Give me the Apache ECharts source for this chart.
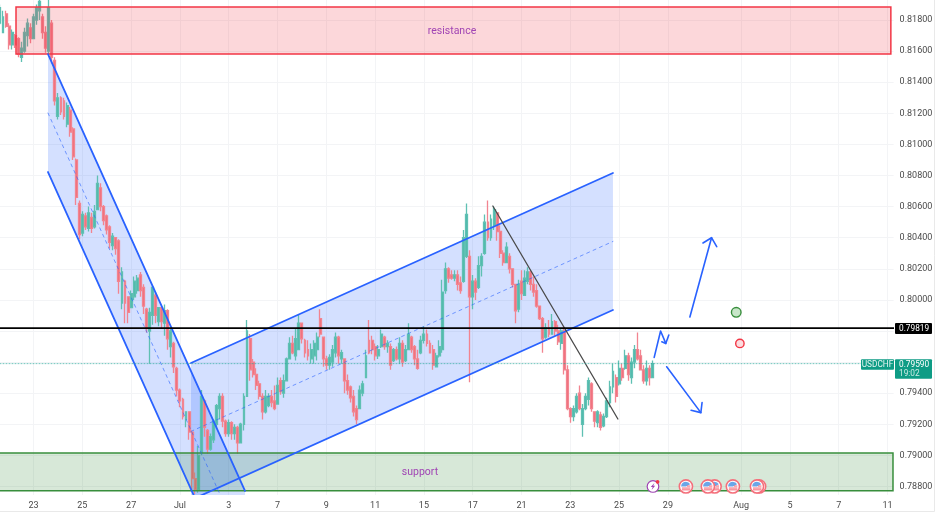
<!DOCTYPE html>
<html><head><meta charset="utf-8">
<style>html,body{margin:0;padding:0;background:#fff}#c{width:941px;height:513px}</style>
<script src="https://cdn.jsdelivr.net/npm/echarts@6/dist/echarts.min.js"></script>
</head><body><div id="c"></div>
<script>
// candles: [open, close, low, high] in units of 0.0001
const weekJun19=[[8178,8188,8177,8190],[8172,8182,8172,8186],[8184,8176,8175,8186],[8176,8164,8161,8178],[8164,8172,8161,8174],[8170,8164,8162,8171],[8168,8158,8156,8169],[8156,8162,8153,8166],[8160,8172,8159,8175],[8170,8178,8163,8181],[8175,8168,8165,8178]];
const weekJun23=[[8168,8182,8168,8184],[8180,8188,8177,8190],[8186,8192,8180,8193],[8182,8172,8168,8184],[8172,8162,8159,8176],[8160,8188,8158,8193],[8178,8156,8152,8180],[8154,8128,8125,8156],[8118,8130,8116,8133],[8130,8121,8119,8131],[8128,8118,8116,8130],[8113,8125,8111,8127],[8122,8108,8105,8124],[8110,8092,8090,8111],[8090,8066,8061,8091],[8062,8042,8039,8064],[8043,8055,8041,8057],[8054,8047,8045,8056],[8046,8056,8044,8060],[8053,8046,8043,8056],[8047,8057,8046,8061],[8058,8075,8058,8080],[8072,8060,8057,8075],[8060,8051,8048,8061],[8054,8045,8042,8055],[8047,8037,8033,8048],[8035,8041,8032,8043],[8040,8033,8029,8040],[8038,8012,8004,8039],[7998,8018,7994,8021],[8012,7998,7985,8013],[8002,7992,7985,8002],[7995,8004,7995,8006],[8002,8012,8000,8015],[8006,8014,8004,8016],[8016,8006,8002,8018],[8008,7996,7991,8010],[7994,7982,7979,7995],[7980,7992,7959,7995],[7990,8008,7984,8009]];
const weekJun30=[[8003,7990,7985,8005],[7986,7995,7983,7995],[7995,7986,7982,7995],[7985,7993,7977,7997],[7993,7975,7968,7994],[7970,7980,7963,7982],[7972,7957,7953,7973],[7956,7942,7938,7957],[7942,7935,7931,7943],[7936,7925,7923,7937],[7923,7928,7918,7928],[7928,7915,7910,7928],[7915,7885,7878,7916],[7885,7878,7875,7889],[7878,7900,7876,7906],[7902,7938,7900,7942],[7935,7918,7912,7936],[7916,7904,7901,7917],[7904,7912,7903,7914],[7910,7922,7908,7923],[7920,7932,7917,7933],[7930,7938,7923,7940],[7938,7922,7918,7940],[7922,7914,7912,7923],[7914,7921,7912,7923],[7921,7914,7910,7922],[7914,7918,7910,7920],[7918,7908,7901,7919],[7908,7920,7908,7921],[7920,7938,7916,7940],[7938,7980,7938,7987],[7975,7955,7948,7978],[7960,7952,7950,7962],[7952,7945,7942,7956],[7946,7938,7936,7948],[7938,7928,7923,7940],[7928,7938,7927,7942],[7932,7938,7931,7940],[7938,7934,7931,7942],[7935,7930,7929,7945]];
const weekJul7=[[7933,7945,7933,7950],[7948,7941,7939,7950],[7940,7948,7937,7952],[7948,7962,7948,7963],[7962,7972,7962,7976],[7972,7966,7965,7977],[7964,7975,7961,7982],[7968,7985,7968,7991],[7985,7975,7972,7985],[7974,7966,7963,7975],[7968,7964,7961,7974],[7962,7968,7959,7972],[7964,7972,7959,7974],[7968,7976,7961,7979],[7988,7978,7976,7994],[7976,7962,7957,7976],[7962,7958,7955,7964],[7958,7963,7955,7965],[7960,7968,7957,7971],[7966,7976,7963,7979],[7976,7964,7959,7977],[7962,7966,7959,7968],[7962,7948,7940,7962],[7948,7942,7939,7952],[7944,7937,7934,7945],[7938,7928,7925,7942],[7930,7923,7920,7932],[7930,7942,7930,7945],[7940,7946,7938,7948],[7950,7964,7950,7968],[7974,7966,7965,7987],[7974,7968,7965,7977],[7970,7964,7961,7972],[7964,7968,7962,7971],[7970,7978,7969,7981],[7976,7970,7968,7977],[7970,7972,7966,7974],[7970,7958,7955,7972],[7961,7968,7960,7969],[7968,7962,7961,7970]];
const weekJul14=[[7962,7972,7959,7976],[7972,7960,7957,7974],[7961,7968,7960,7971],[7968,7978,7968,7985],[7976,7968,7966,7977],[7970,7962,7958,7971],[7962,7956,7955,7968],[7966,7974,7965,7977],[7974,7978,7972,7983],[7978,7972,7970,7981],[7972,7966,7966,7974],[7968,7958,7955,7971],[7957,7964,7957,7966],[7964,7970,7963,7974],[7968,8005,7966,8013],[8006,8020,8004,8024],[8020,8014,8011,8021],[8016,8014,8013,8019],[8014,8016,8012,8019],[8016,8010,8006,8019],[8011,8006,8004,8015],[8012,8040,8011,8045],[8028,8055,8027,8062],[8028,8002,7947,8032],[8002,8012,7994,8016],[8012,8005,8000,8014],[8008,8022,8007,8028],[8022,8028,8015,8030],[8030,8050,8029,8055],[8050,8040,8038,8064],[8040,8052,8038,8055],[8048,8058,8045,8060],[8056,8044,8038,8056],[8044,8030,8027,8048],[8030,8024,8022,8032],[8024,8034,8024,8037],[8028,8020,8017,8030],[8020,8010,8008,8020],[8010,7993,7985,8010],[7994,8010,7992,8013]];
const weekJul21=[[8012,8004,8000,8019],[8003,8014,8003,8019],[8012,8018,8010,8021],[8018,8010,8006,8019],[8010,8005,8002,8015],[8006,7996,7995,8010],[7996,7988,7987,7996],[7988,7975,7966,7989],[7976,7982,7975,7985],[7982,7978,7976,7987],[7978,7986,7978,7991],[7986,7980,7977,7987],[7980,7973,7971,7984],[7972,7980,7968,7982],[7980,7955,7952,7983],[7955,7930,7929,7958],[7930,7925,7921,7931],[7925,7930,7922,7932],[7928,7938,7927,7940],[7940,7930,7929,7945],[7920,7930,7912,7933],[7930,7938,7929,7940],[7936,7948,7932,7950],[7946,7930,7928,7947],[7928,7922,7918,7928],[7921,7928,7918,7929],[7926,7918,7916,7928],[7919,7925,7918,7927],[7925,7935,7924,7937],[7934,7944,7931,7948],[7944,7954,7940,7959],[7950,7938,7934,7952],[7946,7956,7945,7961],[7956,7950,7948,7959],[7956,7964,7955,7968],[7964,7952,7948,7966],[7950,7960,7946,7963],[7960,7968,7956,7971],[7968,7962,7961,7979],[7964,7955,7955,7968]];
const weekJul28=[[7955,7948,7946,7958],[7948,7956,7945,7961],[7956,7950,7945,7958],[7950,7959,7950,7961]];

const tradingDays=['Jun 19','Jun 20','Jun 23','Jun 24','Jun 25','Jun 26','Jun 27','Jun 30','Jul 1','Jul 2','Jul 3','Jul 4','Jul 7','Jul 8','Jul 9','Jul 10','Jul 11','Jul 14','Jul 15','Jul 16','Jul 17','Jul 18','Jul 21','Jul 22','Jul 23','Jul 24','Jul 25','Jul 28','Jul 29','Jul 30','Jul 31','Aug 1','Aug 4','Aug 5','Aug 6','Aug 7','Aug 8','Aug 11'];
const tickDays=['Jun 23','Jun 25','Jun 27','Jul 1','Jul 3','Jul 7','Jul 9','Jul 11','Jul 15','Jul 17','Jul 21','Jul 23','Jul 25','Jul 29','Aug 1','Aug 5','Aug 7','Aug 11'];
const tickLabels=['23','25','27','Jul','3','7','9','11','15','17','21','23','25','29','Aug','5','7','11'];
const priceTicks=[0.788,0.790,0.792,0.794,0.796,0.798,0.800,0.802,0.804,0.806,0.808,0.810,0.812,0.814,0.816,0.818];
const priceLabels=[0.788,0.790,0.792,0.794,0.800,0.802,0.804,0.806,0.808,0.810,0.812,0.814,0.816,0.818];

// drawings: [bar index, price in 0.0001]
const resistanceZone=[[5.25,8188.4],[292.1,8158.1]];
const supportZone=[[-2,7901.5],[292.8,7877.2]];
const fallUpper=[[15.74,8158.1],[80.33,7877.1]];
const fallLower=[[15.74,8082.25],[80.33,7801.2]];
const fallMid=[[15.74,8120.2],[80.33,7839.2]];
const riseUpper=[[62.62,7959.4],[200.98,8081.6]];
const riseLower=[[62.62,7871.3],[200.98,7993.5]];
const riseMid=[[62.62,7915.4],[200.98,8037.6]];
const trendLine=[[161.6,8060.4],[202.6,7923.4]];
const arrowUp=[[226.2,7989],[233.3,8040]];
const arrowUpHead=[[230.5,8036.6],[233.3,8040],[235,8034.2]];
const arrowZig=[[214.5,7963],[216.6,7980],[218.3,7972]];
const arrowZigHead=[[219.3,7977.4],[218.3,7972],[217,7973]];
const arrowDown=[[218.6,7957],[229.8,7927.5]];
const arrowDownHead=[[230.2,7934],[229.8,7927.5],[226.6,7929]];
const targetUp=[241.4,7992], targetDown=[242.6,7972];
const eventBolt=[214.1,7880];
const eventFlags=[[224.9,7880],[234.3,7880],[232.1,7880],[240.3,7880],[248.9,7880],[248.2,7880]];
const keyLevel=7981.9, lastPrice=7959;
const zoneTexts=[['resistance',148.2,8173],['support',137.7,7889]];

const candles=[].concat(weekJun19,weekJun23,weekJun30,weekJul7,weekJul14,weekJul21,weekJul28).map(r=>r.map(v=>v/10000));
const categories=[];
tradingDays.forEach((d,i)=>{for(let b=i===0?5:0;b<8;b++)categories.push(d+'|'+b)});
const N=294;
const cats=categories.slice(0,N);
const isTick=(i,v)=>{const[d,b]=String(v).split('|');return b==='0'&&tickDays.includes(d)};
const BLUE='#2962ff', PURPLE='#a044b4';
const chart=echarts.init(document.getElementById('c'),null,{renderer:'canvas'});

function pt(api,p){ // fractional bar index through the axis scale
  const a=api.coord([0,p[1]/10000]), b=api.coord([N-1,p[1]/10000]);
  return [a[0]+(b[0]-a[0])*p[0]/(N-1), a[1]];
}
const line=(api,pts,color,width,dash)=>({type:'polyline',shape:{points:pts.map(p=>pt(api,p))},style:{stroke:color,lineWidth:width,fill:null,lineDash:dash||null,lineCap:'round',lineJoin:'round'}});
const rect=(api,z,fill,stroke,w)=>{const a=pt(api,z[0]),b=pt(api,z[1]);return{type:'rect',shape:{x:a[0],y:a[1],width:b[0]-a[0],height:b[1]-a[1]},style:{fill,stroke,lineWidth:w}}};
const chan=(api,u,l,fill)=>({type:'polygon',shape:{points:[pt(api,u[0]),pt(api,u[1]),pt(api,l[1]),pt(api,l[0])]},style:{fill}});

function renderFills(params,api){
  const fill='rgba(41,98,255,0.2)';
  return {type:'group',children:[chan(api,fallUpper,fallLower,fill),chan(api,riseUpper,riseLower,fill)]};
}
function renderDrawings(params,api){
  const kids=[
    rect(api,resistanceZone,'rgba(242,54,69,0.2)','#f23645',1.5),
    rect(api,supportZone,'rgba(56,142,60,0.2)','#388e3c',1.5),
    line(api,fallMid,'rgba(41,98,255,0.6)',1,[3,4]),
    line(api,riseMid,'rgba(41,98,255,0.6)',1,[3,4]),
    line(api,fallUpper,BLUE,1.8),line(api,fallLower,BLUE,1.8),
    line(api,riseUpper,BLUE,1.8),line(api,riseLower,BLUE,1.8),
    line(api,trendLine,'#4a4a4a',1.3),
    line(api,arrowUp,BLUE,1.6),line(api,arrowUpHead,BLUE,1.6),
    line(api,arrowZig,BLUE,1.6),line(api,arrowZigHead,BLUE,1.6),
    line(api,arrowDown,BLUE,1.6),line(api,arrowDownHead,BLUE,1.6),
    line(api,[[0,lastPrice],[282.6,lastPrice]],'rgba(38,166,154,0.65)',1,[1,2]),
    line(api,[[-1,keyLevel],[N,keyLevel]],'#000',1.8)
  ];
  zoneTexts.forEach(t=>{const p=pt(api,[t[1],t[2]]);kids.push({type:'text',style:{text:t[0],x:p[0],y:p[1],fill:PURPLE,font:'10.5px Roboto',align:'center',verticalAlign:'middle'}})});
  const g=pt(api,targetUp),r=pt(api,targetDown);
  kids.push({type:'circle',shape:{cx:g[0],cy:g[1],r:4.8},style:{fill:'#c8e6c9',stroke:'#388e3c',lineWidth:1.4}});
  kids.push({type:'circle',shape:{cx:r[0],cy:r[1],r:4.2},style:{fill:'#fcdcdf',stroke:'#f23645',lineWidth:1.4}});
  return {type:'group',children:kids};
}
function renderEvents(params,api){
  const kids=[];
  const [bx,by]=pt(api,eventBolt);
  kids.push({type:'circle',shape:{cx:bx,cy:by,r:5.8},style:{fill:'#fff',stroke:PURPLE,lineWidth:1.2}});
  kids.push({type:'polygon',shape:{points:[[bx+1.6,by-3.6],[bx-2.2,by+.6],[bx-.2,by+.6],[bx-1.4,by+3.6],[bx+2.2,by-.8],[bx+.2,by-.8]]},style:{fill:PURPLE}});
  kids.push({type:'circle',shape:{cx:bx+4.6,cy:by-4.6,r:1.9},style:{fill:'#f23645'}});
  eventFlags.forEach(f=>{
    const [x,y]=pt(api,f);
    kids.push({type:'circle',shape:{cx:x,cy:y,r:6.6},style:{fill:'#fff',stroke:'#f4707c',lineWidth:1.6}});
    kids.push({type:'sector',shape:{cx:x,cy:y,r0:0,r:4.8,startAngle:Math.PI,endAngle:Math.PI*1.85},style:{fill:'#6aa6e8'}});
    [-.4,1.6,3.4].forEach((d,i)=>kids.push({type:'line',shape:{x1:x-(i?4:-1),y1:y+d,x2:x+4.5,y2:y+d},style:{stroke:'#f4606e',lineWidth:1}}));
  });
  return {type:'group',children:kids};
}
function renderTags(params,api){
  const k=pt(api,[0,keyLevel])[1], l=pt(api,[0,lastPrice])[1];
  const F='8.3px Roboto';
  const tx=(text,x,y,fill,align)=>({type:'text',style:{text,x,y,fill,font:F,align:align||'left',verticalAlign:'middle'}});
  const box=(x,y,w,h,fill)=>({type:'rect',shape:{x,y,width:w,height:h,r:1},style:{fill}});
  return {type:'group',children:[
    box(895,k-5,37,11,'#000'),tx('0.79819',899,k+.7,'#fff'),
    box(861,l-4.5,33,10.5,'#0e9c85'),tx('USDCHF',877.5,l+.9,'#e6f5f2','center'),
    box(895,l-4.5,37,19.5,'#0e9c85'),tx('0.79590',899,l+.9,'#fff'),tx('19:02',899,l+9.8,'#cdebe5')
  ]};
}
const custom=(renderItem,clip,z)=>({type:'custom',data:[[0,0.8]],renderItem,clip,z,silent:true,animation:false});

chart.setOption({
  animation:false,backgroundColor:'#fff',
  grid:{left:0,top:0,width:893.6,height:495},
  xAxis:{type:'category',data:cats,boundaryGap:false,
    axisLine:{show:false},axisTick:{show:false},
    axisLabel:{interval:isTick,margin:6,color:'#4a4a4a',fontSize:9,fontFamily:'Roboto',hideOverlap:false,
      formatter:v=>{const i=tickDays.indexOf(String(v).split('|')[0]);return i<0?'':tickLabels[i]}},
    splitLine:{show:true,interval:isTick,lineStyle:{color:'#f3f4f6',width:1}}},
  yAxis:{type:'value',position:'right',min:0.78745,max:0.81929,scale:true,
    axisLine:{show:false},
    axisTick:{show:false,customValues:priceTicks},
    axisLabel:{customValues:priceLabels,margin:6,color:'#4a4a4a',fontSize:9,fontFamily:'Roboto',padding:[2,0,0,0],formatter:v=>v.toFixed(5),showMinLabel:true,showMaxLabel:true},
    splitLine:{show:true,lineStyle:{color:'#f3f4f6',width:1}}},
  graphic:[
    {type:'line',shape:{x1:0,y1:511.5,x2:934.5,y2:511.5},style:{stroke:'#e9e9e9',lineWidth:1}},
    {type:'line',shape:{x1:934.5,y1:0,x2:934.5,y2:511.5},style:{stroke:'#e9e9e9',lineWidth:1}}
  ],
  series:[
    custom(renderFills,true,1),
    {type:'candlestick',data:candles,barWidth:2.4,z:2,clip:true,
      itemStyle:{color:'#4fb9aa',color0:'#f06c79',borderColor:'#5fc0b3',borderColor0:'#f28490',borderWidth:1.3,opacity:1}},
    custom(renderDrawings,true,3),
    custom(renderEvents,false,4),
    custom(renderTags,false,5)
  ]
});
</script></body></html>
